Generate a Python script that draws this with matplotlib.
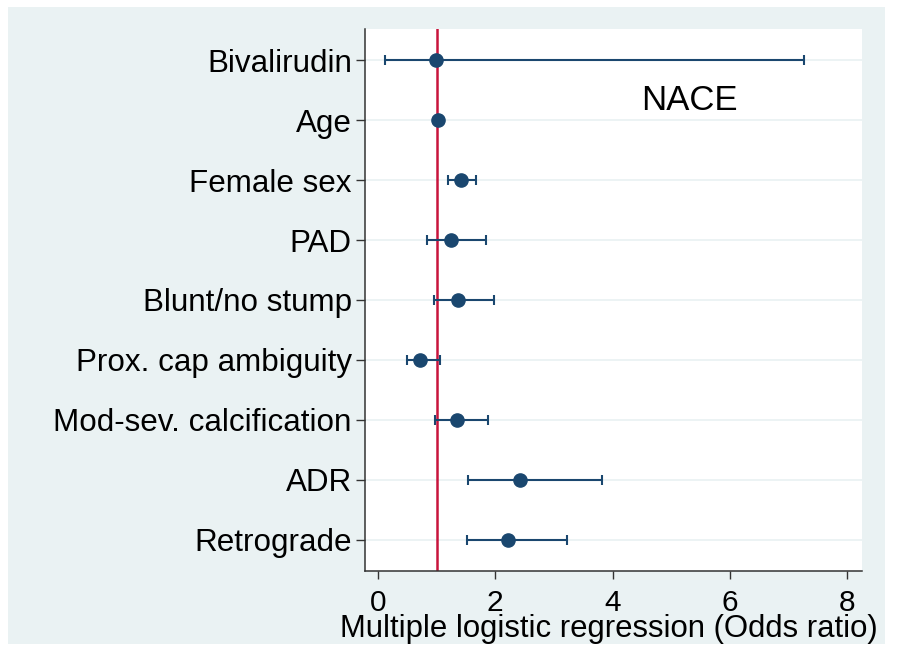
import matplotlib
matplotlib.use("Agg")
import matplotlib.pyplot as plt
from matplotlib.patches import Rectangle

plt.rcParams["font.family"] = ["Liberation Sans", "DejaVu Sans"]

labels = ["Bivalirudin", "Age", "Female sex", "PAD", "Blunt/no stump",
          "Prox. cap ambiguity", "Mod-sev. calcification", "ADR", "Retrograde"]
odds = [0.99, 1.03, 1.41, 1.24, 1.37, 0.72, 1.34, 2.43, 2.22]
ci_low = [0.12, 1.02, 1.19, 0.83, 0.95, 0.49, 0.975, 1.54, 1.52]
ci_high = [7.27, 1.04, 1.67, 1.84, 1.98, 1.06, 1.87, 3.82, 3.23]
xticks = [0, 2, 4, 6, 8]

navy = "#1a476f"
bg = "#eaf2f3"

fig = plt.figure(figsize=(8.98, 6.58), dpi=100, facecolor="white")
fig.patches.append(Rectangle((8 / 898, 1 - 644 / 658), 877 / 898, 637 / 658,
                             transform=fig.transFigure, facecolor=bg,
                             edgecolor="none", zorder=-10))

ax = fig.add_axes([365 / 898, 1 - 571 / 658, 497 / 898, 542 / 658])
ax.set_facecolor("white")

pos = list(range(1, len(labels) + 1))
for p in pos:
    ax.axhline(p, color=bg, lw=1.3, zorder=1)

ax.axvline(1, color="#c8143c", lw=1.8, zorder=2)

err = [[o - lo for o, lo in zip(odds, ci_low)],
       [hi - o for o, hi in zip(odds, ci_high)]]
ax.errorbar(odds, pos, xerr=err, fmt="o", color=navy, ms=9.5,
            elinewidth=1.5, capsize=3.3, capthick=1.5, zorder=3)

ax.set_ylim(9.52, 0.48)
ax.set_xlim(-0.22, 8.25)
ax.set_yticks(pos)
ax.set_yticklabels(labels)
ax.set_xticks(xticks)

for s in ["top", "right"]:
    ax.spines[s].set_visible(False)
for s in ["left", "bottom"]:
    ax.spines[s].set_color("#333333")
    ax.spines[s].set_linewidth(1.1)

ax.tick_params(axis="y", length=6.5, width=1, color="#333333",
               labelsize=22.6, pad=3)
ax.tick_params(axis="x", length=6, width=1, color="#333333",
               labelsize=21.5, pad=7)

ax.set_xlabel("Multiple logistic regression (Odds ratio)", fontsize=22.4,
              va="baseline")
ax.xaxis.set_label_coords(0.491, -66 / 542)

ax.text(689 / 898, 1 - 101 / 658, "NACE", transform=fig.transFigure,
        fontsize=25, ha="center", va="center")

fig.savefig("out.png", dpi=100)
